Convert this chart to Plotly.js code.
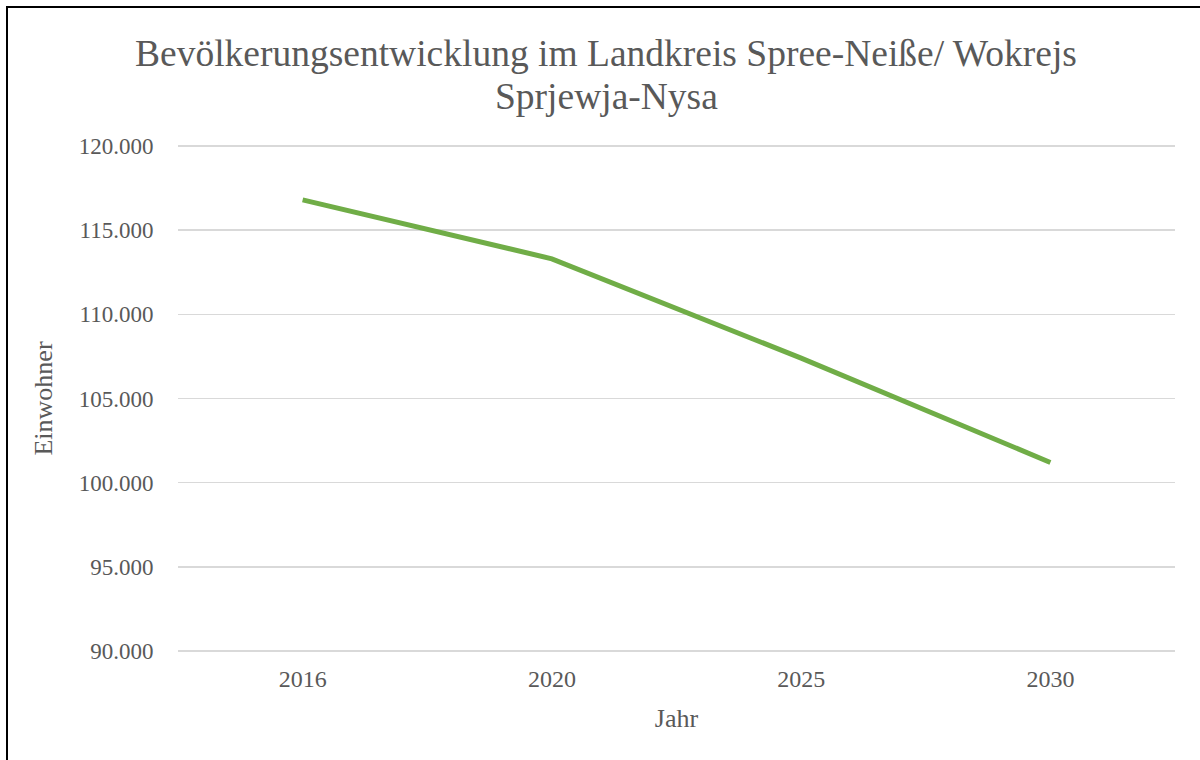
<!DOCTYPE html>
<html>
<head>
<meta charset="utf-8">
<script src="https://cdn.plot.ly/plotly-3.0.1.min.js"></script>
<style>
html, body { margin: 0; padding: 0; background: #fff; overflow: hidden; }
#chart { position: absolute; left: 0; top: 0; width: 1200px; height: 760px; }
#frame { position: absolute; left: 6px; top: 6px; width: 1300px; height: 900px; border: 2px solid #000; pointer-events: none; }
</style>
</head>
<body>
<div id="chart"></div>
<div id="frame"></div>
<script>
const years = ['2016', '2020', '2025', '2030'];
const einwohner = [116800, 113300, 107400, 101200];
const yTickVals = [90000, 95000, 100000, 105000, 110000, 115000, 120000];
const yTickText = ['90.000', '95.000', '100.000', '105.000', '110.000', '115.000', '120.000'];
const titleLines = ['Bevölkerungsentwicklung im Landkreis Spree-Neiße/ Wokrejs', 'Sprjewja-Nysa'];

const font = 'Liberation Serif, Times New Roman, serif';
const grey = '#595959';

Plotly.newPlot('chart', [{
  x: years,
  y: einwohner,
  type: 'scatter',
  mode: 'lines',
  line: { color: '#70AD47', width: 5 },
  hoverinfo: 'skip'
}], {
  width: 1200,
  height: 760,
  paper_bgcolor: '#fff',
  plot_bgcolor: '#fff',
  showlegend: false,
  margin: { l: 178, r: 25, t: 141, b: 104 },
  font: { family: font, color: grey, size: 23 },
  annotations: [
    { text: titleLines[0], xref: 'paper', yref: 'paper', x: 0.4293, y: 1.169, xanchor: 'center', yanchor: 'middle',
      showarrow: false, font: { family: font, size: 37.5, color: grey } },
    { text: titleLines[1], xref: 'paper', yref: 'paper', x: 0.4293, y: 1.087, xanchor: 'center', yanchor: 'middle',
      showarrow: false, font: { family: font, size: 37.5, color: grey } }
  ],
  xaxis: {
    type: 'category',
    range: [-0.5, 3.5],
    showgrid: false,
    zeroline: false,
    showline: false,
    ticks: 'outside', ticklen: 1, tickcolor: 'rgba(0,0,0,0)',
    tickfont: { family: font, size: 24, color: grey },
    title: { text: 'Jahr', font: { family: font, size: 26, color: grey }, standoff: 18 }
  },
  yaxis: {
    range: [89700, 120300],
    tickvals: yTickVals,
    ticktext: yTickText,
    showgrid: true,
    gridcolor: '#D9D9D9',
    gridwidth: 1.5,
    zeroline: false,
    showline: false,
    ticks: 'outside', ticklen: 19, tickcolor: 'rgba(0,0,0,0)',
    tickfont: { family: font, size: 23, color: grey },
    title: { text: 'Einwohner', font: { family: font, size: 26, color: grey }, standoff: 18 }
  }
}, { staticPlot: true, displayModeBar: false });
</script>
</body>
</html>
